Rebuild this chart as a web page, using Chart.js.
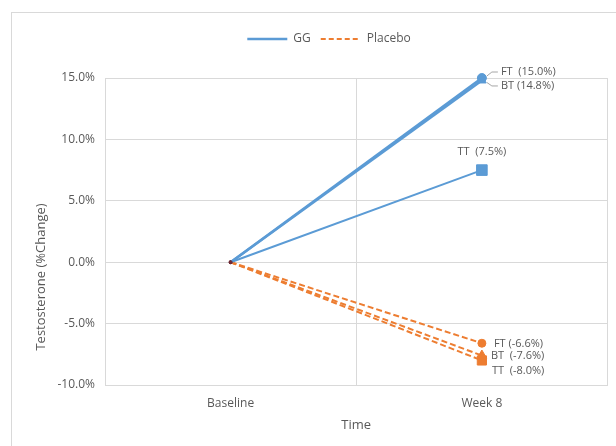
<!DOCTYPE html>
<html>
<head>
<meta charset="utf-8">
<script src="https://cdn.jsdelivr.net/npm/chart.js@4.4.0/dist/chart.umd.min.js"></script>
<style>
	body { margin: 0; background: #fff; }
	#frame {
		position: absolute; left: 11px; top: 12px;
		width: 660px; height: 460px;
		border: 1px solid #d9d9d9;
	}
	#wrap { position: absolute; left: 0; top: 0; width: 616px; height: 446px; }
</style>
</head>
<body>
<div id="frame"></div>
<div id="wrap"><canvas id="chart" width="616" height="446"></canvas></div>
<script>
// Values
var categories = ["Baseline", "Week 8"];
var ggFT = [0, 15.0];
var ggBT = [0, 14.8];
var ggTT = [0, 7.5];
var placeboFT = [0, -6.6];
var placeboBT = [0, -7.6];
var placeboTT = [0, -8.0];
var pointLabels = ["FT  (15.0%)", "BT (14.8%)", "TT  (7.5%)", "FT (-6.6%)", "BT  (-7.6%)", "TT  (-8.0%)"];
var yMin = -10, yMax = 15, yStep = 5;

var BLUE = "#5b9bd5";
var ORANGE = "#ed7d31";
var TEXT = "#595959";
var GRID = "#d9d9d9";
var FONT = "'Open Sans', 'Liberation Sans', sans-serif";

Chart.defaults.font.family = FONT;
Chart.defaults.color = TEXT;

function series(label, data, color, dash, width, style, radius) {
	return {
		label: label,
		data: data,
		borderColor: color,
		backgroundColor: color,
		borderWidth: width,
		borderDash: dash,
		tension: 0,
		clip: false,
		pointStyle: style,
		pointRadius: [1.5, radius],
		pointBackgroundColor: ["#6e2a36", color],
		pointBorderColor: ["#6e2a36", color],
		pointBorderWidth: 1
	};
}

// where each label sits relative to its Week 8 point
var labelPlacement = [
	{ dx: 19, dy: -6, align: "left", leader: true },
	{ dx: 19, dy: 5.5, align: "left", leader: true },
	{ dx: 0, dy: -18, align: "center" },
	{ dx: 12, dy: 1, align: "left" },
	{ dx: 9, dy: 0, align: "left" },
	{ dx: 10, dy: 10, align: "left" }
];

var pointLabelPlugin = {
	id: "pointLabels",
	afterDatasetsDraw: function (chart) {
		var ctx = chart.ctx;
		ctx.save();
		ctx.font = "11px " + FONT;
		ctx.fillStyle = TEXT;
		ctx.textBaseline = "middle";
		pointLabels.forEach(function (text, i) {
			var pt = chart.getDatasetMeta(i).data[1];
			var pos = labelPlacement[i];
			var tx = pt.x + pos.dx, ty = pt.y + pos.dy;
			if (pos.leader) {
				ctx.strokeStyle = "#a6a6a6";
				ctx.lineWidth = 1;
				ctx.beginPath();
				ctx.moveTo(pt.x + 5, pt.y + (pos.dy < 0 ? -2 : 2));
				ctx.lineTo(pt.x + 10, ty);
				ctx.lineTo(tx - 3, ty);
				ctx.stroke();
			}
			ctx.textAlign = pos.align;
			ctx.fillText(text, tx, ty);
		});
		ctx.restore();
	}
};

var yTitlePlugin = {
	id: "yTitle",
	afterDraw: function (chart) {
		var ctx = chart.ctx;
		ctx.save();
		ctx.translate(41, 277);
		ctx.rotate(-Math.PI / 2);
		ctx.font = "13px " + FONT;
		ctx.fillStyle = TEXT;
		ctx.textAlign = "center";
		ctx.textBaseline = "middle";
		ctx.fillText("Testosterone (%Change)", 0, 0);
		ctx.restore();
	}
};

var legendHeightPlugin = {
	id: "legendHeight",
	afterInit: function (chart) {
		var legend = chart.legend;
		var fit = legend.fit;
		legend.fit = function () {
			fit.call(this);
			this.height = 55;
		};
	}
};

var chart = new Chart(document.getElementById("chart"), {
	type: "line",
	data: {
		labels: categories,
		datasets: [
			series("GG FT", ggFT, BLUE, [], 2.5, "circle", 4.5),
			series("GG BT", ggBT, BLUE, [], 2.5, "triangle", 5),
			series("GG TT", ggTT, BLUE, [], 2, "rect", 7.5),
			series("Placebo FT", placeboFT, ORANGE, [6, 3], 2, "circle", 4),
			series("Placebo BT", placeboBT, ORANGE, [6, 3], 2, "triangle", 5.5),
			series("Placebo TT", placeboTT, ORANGE, [6, 3], 2, "rect", 6.5)
		]
	},
	options: {
		responsive: false,
		animation: false,
		layout: {
			padding: { left: 47, right: 5, top: 23, bottom: 0 }
		},
		plugins: {
			legend: {
				position: "top",
				labels: {
					usePointStyle: true,
					pointStyleWidth: 40,
					padding: 10,
					font: { size: 12 },
					generateLabels: function () {
						return [
							{ text: "GG", strokeStyle: BLUE, fillStyle: BLUE, lineWidth: 2.5, lineDash: [], pointStyle: "line", fontColor: TEXT, datasetIndex: 0 },
							{ text: "Placebo", strokeStyle: ORANGE, fillStyle: ORANGE, lineWidth: 2, lineDash: [5, 3], pointStyle: "line", fontColor: TEXT, datasetIndex: 3 }
						];
					}
				},
				onClick: null
			},
			tooltip: { enabled: false }
		},
		scales: {
			x: {
				offset: true,
				grid: { color: GRID, drawTicks: false, offset: true },
				border: { color: GRID },
				ticks: { padding: 11, font: { size: 12 } },
				title: {
					display: true,
					text: "Time",
					font: { size: 13 },
					padding: { top: 4, bottom: 13 }
				},
				afterFit: function (scale) {
					scale.height = 61;
				}
			},
			y: {
				min: yMin,
				max: yMax,
				grid: { color: GRID, drawTicks: false },
				border: { display: false },
				ticks: {
					stepSize: yStep,
					padding: 10,
					font: { size: 12 },
					callback: function (v) {
						return v.toFixed(1) + "%";
					}
				},
				afterFit: function (scale) {
					scale.width = 58;
				}
			}
		}
	},
	plugins: [legendHeightPlugin, pointLabelPlugin, yTitlePlugin]
});
</script>
</body>
</html>
